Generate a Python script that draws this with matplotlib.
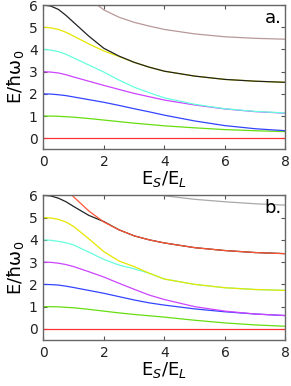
import numpy as np
import matplotlib
matplotlib.use("Agg")
import matplotlib.pyplot as plt

# E_S/E_L sample points
x = [0, 0.25, 0.5, 0.75, 1, 1.5, 2, 2.5, 3, 3.5, 4, 5, 6, 7, 8]

# panel a levels
a_red = [0] * 15
a_green = [1.0, 1.0, 0.99, 0.97, 0.95, 0.89, 0.82, 0.75, 0.68, 0.62, 0.56, 0.47, 0.39, 0.34, 0.30]
a_blue = [2.0, 1.99, 1.96, 1.92, 1.86, 1.74, 1.62, 1.48, 1.33, 1.19, 1.04, 0.78, 0.57, 0.43, 0.34]
a_magenta = [3.0, 2.98, 2.94, 2.86, 2.76, 2.57, 2.38, 2.20, 2.02, 1.87, 1.72, 1.50, 1.32, 1.20, 1.13]
a_cyan = [4.0, 3.97, 3.90, 3.78, 3.62, 3.30, 2.98, 2.62, 2.30, 2.05, 1.82, 1.53, 1.33, 1.21, 1.14]
a_yellow = [5.0, 4.97, 4.90, 4.77, 4.60, 4.25, 3.93, 3.68, 3.42, 3.20, 3.02, 2.80, 2.65, 2.57, 2.52]
a_black = [6.0, 5.95, 5.80, 5.53, 5.22, 4.60, 4.05, 3.70, 3.42, 3.20, 3.02, 2.80, 2.65, 2.57, 2.52]
a_brown_x = [1.5, 2, 2.5, 3, 3.5, 4, 5, 6, 7, 8]
a_brown = [6.30, 5.78, 5.45, 5.22, 5.05, 4.90, 4.70, 4.57, 4.50, 4.46]

# panel b levels
b_red = [0] * 15
b_green = [1.0, 1.0, 0.99, 0.97, 0.95, 0.88, 0.80, 0.72, 0.65, 0.59, 0.53, 0.39, 0.27, 0.18, 0.12]
b_blue = [2.0, 1.99, 1.97, 1.92, 1.86, 1.73, 1.60, 1.45, 1.30, 1.17, 1.07, 0.90, 0.77, 0.67, 0.60]
b_magenta = [3.0, 2.99, 2.95, 2.89, 2.80, 2.57, 2.33, 2.05, 1.78, 1.52, 1.32, 1.00, 0.80, 0.67, 0.60]
b_cyan = [4.0, 3.98, 3.93, 3.87, 3.77, 3.45, 3.12, 2.87, 2.70, 2.50, 2.24, 2.00, 1.85, 1.77, 1.73]
b_yellow = [5.0, 4.98, 4.92, 4.80, 4.60, 4.05, 3.47, 3.05, 2.80, 2.50, 2.24, 2.00, 1.85, 1.77, 1.73]
b_black = [6.0, 5.97, 5.87, 5.71, 5.50, 5.10, 4.82, 4.45, 4.18, 4.00, 3.86, 3.65, 3.52, 3.43, 3.38]
b_orange_x = [0.5, 1, 1.5, 2, 2.5, 3, 3.5, 4, 5, 6, 7, 8]
b_orange = [6.65, 5.93, 5.30, 4.80, 4.45, 4.18, 4.00, 3.86, 3.65, 3.52, 3.43, 3.38]
b_gray_x = [3.5, 4, 5, 6, 7, 8]
b_gray = [6.15, 5.98, 5.82, 5.71, 5.62, 5.56]

c_red = "#ff3333"
c_green = "#66dd11"
c_blue = "#3344ff"
c_magenta = "#cc44ff"
c_cyan = "#66ffdd"
c_yellow = "#e6e600"
c_black = "#222222"

fig = plt.figure(figsize=(2.91, 3.86), dpi=100)
ax1 = fig.add_axes([0.149, 0.613, 0.832, 0.374])
ax2 = fig.add_axes([0.149, 0.119, 0.832, 0.375])

lw = 0.9
ax1.plot(x, a_red, color=c_red, lw=lw)
ax1.plot(x, a_green, color=c_green, lw=lw)
ax1.plot(x, a_blue, color=c_blue, lw=lw)
ax1.plot(x, a_magenta, color=c_magenta, lw=lw)
ax1.plot(x, a_cyan, color=c_cyan, lw=lw)
ax1.plot(x, a_yellow, color=c_yellow, lw=lw)
ax1.plot(x, a_black, color=c_black, lw=lw)
ax1.plot(a_brown_x, a_brown, color="#b89898", lw=lw)

ax2.plot(x, b_red, color=c_red, lw=lw)
ax2.plot(x, b_green, color=c_green, lw=lw)
ax2.plot(x, b_blue, color=c_blue, lw=lw)
ax2.plot(x, b_magenta, color=c_magenta, lw=lw)
ax2.plot(x, b_cyan, color=c_cyan, lw=lw)
ax2.plot(x, b_yellow, color=c_yellow, lw=lw)
ax2.plot(x, b_black, color=c_black, lw=lw)
ax2.plot(b_orange_x, b_orange, color="#ff5533", lw=lw)
ax2.plot(b_gray_x, b_gray, color="#a8a8a8", lw=lw)

for ax, lab in [(ax1, "a."), (ax2, "b.")]:
    ax.set_xlim(0, 8)
    ax.set_ylim(-0.5, 6)
    ax.set_xticks([0, 2, 4, 6, 8])
    ax.set_yticks([0, 1, 2, 3, 4, 5, 6])
    ax.tick_params(direction="in", length=3, width=0.8, top=True, right=True,
                   labelsize=10, colors="#555555", labelcolor="#222222", pad=4)
    for s in ax.spines.values():
        s.set_color("#666666")
        s.set_linewidth(1.0)
    ax.set_xlabel("E$_S$/E$_L$", fontsize=13, labelpad=0)
    ax.set_ylabel("E/ħω$_0$", fontsize=13, labelpad=2)
    ax.text(0.985, 0.975, lab, transform=ax.transAxes, ha="right", va="top", fontsize=13)

plt.savefig("out.png", dpi=100)
